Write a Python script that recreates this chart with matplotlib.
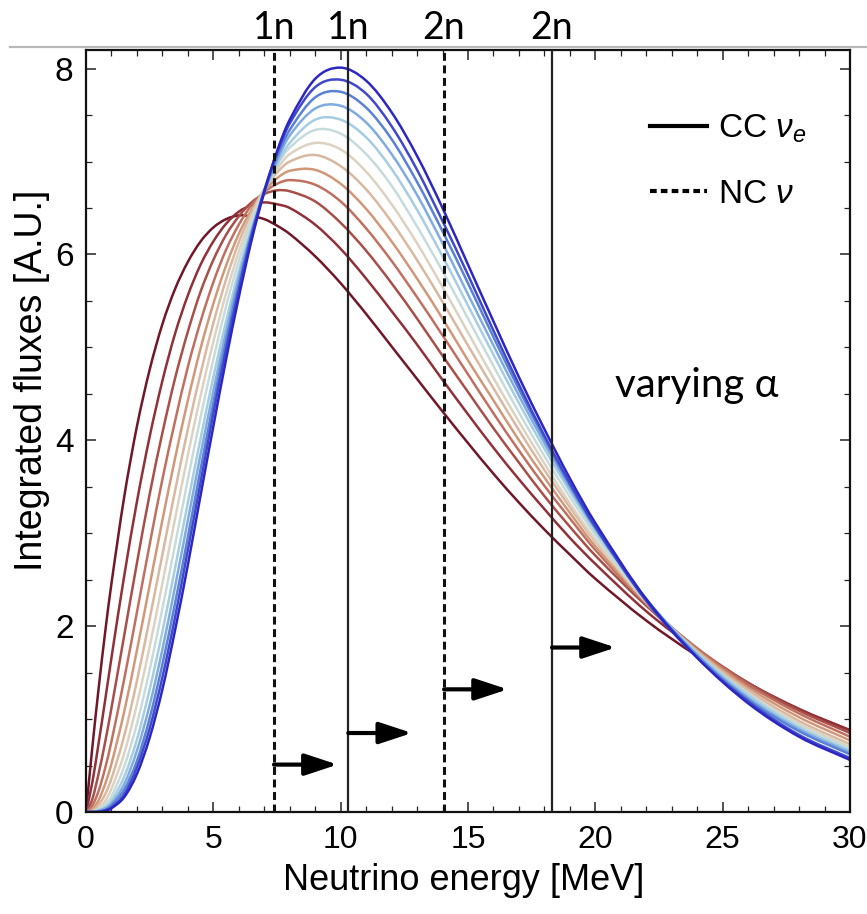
import matplotlib
matplotlib.use('Agg')
import matplotlib.pyplot as plt
from matplotlib.lines import Line2D
from matplotlib.path import Path
from matplotlib.patches import PathPatch
from matplotlib.ticker import MultipleLocator
from matplotlib.colors import LinearSegmentedColormap

# ---------------- data ----------------
energy = [0, 0.25, 0.5, 0.75, 1, 1.5, 2, 2.5, 3, 3.5, 4, 4.5, 5, 5.5, 6, 6.5, 7, 7.5, 8,
          9, 10, 11, 12, 13, 14, 15, 16, 17, 18, 19, 20, 22, 24, 26, 28, 30]

flux_01 = [0, 0.70, 1.34, 1.93, 2.46, 3.39, 4.15, 4.76, 5.25, 5.63, 5.92, 6.14, 6.29, 6.38, 6.42, 6.41, 6.38, 6.31, 6.22, 5.98, 5.69, 5.36, 5.01, 4.66, 4.31, 3.97, 3.64, 3.33, 3.04, 2.77, 2.51, 2.06, 1.68, 1.36, 1.10, 0.88]
flux_02 = [0, 0.32, 0.75, 1.20, 1.66, 2.54, 3.34, 4.04, 4.64, 5.15, 5.56, 5.89, 6.14, 6.33, 6.46, 6.53, 6.56, 6.54, 6.50, 6.32, 6.06, 5.74, 5.39, 5.03, 4.65, 4.28, 3.92, 3.58, 3.26, 2.95, 2.67, 2.16, 1.74, 1.39, 1.11, 0.88]
flux_03 = [0, 0.14, 0.42, 0.75, 1.12, 1.90, 2.68, 3.42, 4.08, 4.67, 5.17, 5.60, 5.94, 6.21, 6.41, 6.56, 6.65, 6.69, 6.68, 6.57, 6.34, 6.04, 5.69, 5.31, 4.91, 4.52, 4.13, 3.76, 3.40, 3.07, 2.76, 2.22, 1.76, 1.39, 1.09, 0.85]
flux_04 = [0, 0.07, 0.23, 0.47, 0.76, 1.43, 2.15, 2.88, 3.58, 4.21, 4.79, 5.28, 5.70, 6.05, 6.32, 6.53, 6.67, 6.76, 6.80, 6.75, 6.57, 6.28, 5.93, 5.54, 5.13, 4.71, 4.29, 3.89, 3.51, 3.16, 2.82, 2.24, 1.76, 1.37, 1.06, 0.81]
flux_05 = [0, 0.03, 0.13, 0.30, 0.52, 1.08, 1.74, 2.44, 3.14, 3.81, 4.43, 4.99, 5.47, 5.88, 6.22, 6.48, 6.68, 6.82, 6.90, 6.91, 6.76, 6.49, 6.14, 5.74, 5.31, 4.86, 4.43, 4.00, 3.60, 3.22, 2.86, 2.25, 1.74, 1.34, 1.02, 0.77]
flux_06 = [0, 0.01, 0.08, 0.19, 0.36, 0.82, 1.41, 2.08, 2.77, 3.46, 4.12, 4.72, 5.26, 5.73, 6.13, 6.45, 6.70, 6.88, 7.00, 7.07, 6.95, 6.70, 6.35, 5.94, 5.49, 5.02, 4.56, 4.11, 3.68, 3.28, 2.91, 2.26, 1.73, 1.31, 0.98, 0.73]
flux_07 = [0, 0.01, 0.04, 0.12, 0.25, 0.63, 1.16, 1.78, 2.46, 3.16, 3.84, 4.48, 5.06, 5.58, 6.03, 6.40, 6.70, 6.92, 7.08, 7.20, 7.13, 6.89, 6.54, 6.12, 5.65, 5.16, 4.67, 4.20, 3.75, 3.32, 2.93, 2.26, 1.71, 1.28, 0.95, 0.70]
flux_08 = [0, 0.00, 0.03, 0.08, 0.17, 0.49, 0.95, 1.53, 2.19, 2.88, 3.58, 4.25, 4.87, 5.44, 5.93, 6.35, 6.69, 6.96, 7.15, 7.34, 7.30, 7.08, 6.74, 6.30, 5.82, 5.31, 4.80, 4.30, 3.83, 3.39, 2.98, 2.27, 1.71, 1.27, 0.93, 0.68]
flux_09 = [0, 0.00, 0.02, 0.05, 0.12, 0.38, 0.78, 1.32, 1.94, 2.63, 3.33, 4.02, 4.68, 5.28, 5.82, 6.28, 6.67, 6.97, 7.20, 7.45, 7.45, 7.26, 6.92, 6.48, 5.98, 5.45, 4.92, 4.40, 3.91, 3.45, 3.02, 2.29, 1.71, 1.26, 0.91, 0.66]
flux_10 = [0, 0.00, 0.01, 0.04, 0.09, 0.30, 0.66, 1.15, 1.75, 2.43, 3.14, 3.85, 4.53, 5.17, 5.75, 6.25, 6.67, 7.01, 7.28, 7.57, 7.60, 7.42, 7.08, 6.64, 6.12, 5.57, 5.02, 4.48, 3.97, 3.49, 3.05, 2.29, 1.69, 1.23, 0.89, 0.64]
flux_11 = [0, 0.00, 0.01, 0.02, 0.07, 0.24, 0.55, 1.01, 1.59, 2.25, 2.96, 3.69, 4.40, 5.07, 5.68, 6.22, 6.67, 7.05, 7.34, 7.69, 7.75, 7.58, 7.24, 6.78, 6.25, 5.69, 5.11, 4.55, 4.02, 3.52, 3.06, 2.29, 1.68, 1.21, 0.87, 0.62]
flux_12 = [0, 0.00, 0.00, 0.02, 0.05, 0.19, 0.48, 0.90, 1.45, 2.10, 2.82, 3.55, 4.29, 4.98, 5.62, 6.20, 6.69, 7.09, 7.41, 7.80, 7.88, 7.73, 7.38, 6.91, 6.36, 5.78, 5.18, 4.60, 4.05, 3.54, 3.07, 2.27, 1.66, 1.19, 0.83, 0.58]
flux_13 = [0, 0.00, 0.00, 0.01, 0.04, 0.16, 0.41, 0.80, 1.32, 1.96, 2.66, 3.41, 4.15, 4.87, 5.54, 6.15, 6.67, 7.11, 7.45, 7.89, 8.01, 7.87, 7.53, 7.06, 6.50, 5.89, 5.28, 4.68, 4.12, 3.59, 3.11, 2.29, 1.66, 1.17, 0.81, 0.56]

fluxes = [flux_01, flux_02, flux_03, flux_04, flux_05, flux_06, flux_07,
          flux_08, flux_09, flux_10, flux_11, flux_12, flux_13]

# thresholds (MeV): NC 1n, CC 1n, NC 2n, CC 2n
threshold_energy = [7.38, 10.3, 14.06, 18.3]
threshold_kind = ['NC', 'CC', 'NC', 'CC']
threshold_label = ['1n', '1n', '2n', '2n']
arrow_height = [0.51, 0.85, 1.32, 1.77]
arrow_length = 2.5

legend_labels = ['CC $\\nu_e$', 'NC $\\nu$']
x_label = 'Neutrino energy [MeV]'
y_label = 'Integrated fluxes [A.U.]'
note = 'varying α'

# ---------------- styling ----------------
plt.rcParams['mathtext.fontset'] = 'custom'
plt.rcParams['mathtext.rm'] = 'Liberation Sans'
plt.rcParams['mathtext.it'] = 'Liberation Sans:italic'
plt.rcParams['font.family'] = ['Liberation Sans', 'DejaVu Sans']

cmap = LinearSegmentedColormap.from_list('temp', [
    '#701828', '#903038', '#a85048', '#c07060', '#d09878', '#d8b8a0',
    '#ddd2c0', '#c6dcdc', '#a6cde2', '#80ace0', '#5a82d6', '#4048cc', '#2c26c2'])


def smooth_path(xs, ys):
    """Smooth (cubic Hermite / Bezier) path through the data points."""
    n = len(xs)
    slopes = []
    for i in range(n):
        if i == 0:
            slopes.append((ys[1] - ys[0]) / (xs[1] - xs[0]))
        elif i == n - 1:
            slopes.append((ys[-1] - ys[-2]) / (xs[-1] - xs[-2]))
        else:
            slopes.append((ys[i + 1] - ys[i - 1]) / (xs[i + 1] - xs[i - 1]))
    verts = [(xs[0], ys[0])]
    codes = [Path.MOVETO]
    for i in range(n - 1):
        h = xs[i + 1] - xs[i]
        verts += [(xs[i] + h / 3, ys[i] + slopes[i] * h / 3),
                  (xs[i + 1] - h / 3, ys[i + 1] - slopes[i + 1] * h / 3),
                  (xs[i + 1], ys[i + 1])]
        codes += [Path.CURVE4] * 3
    return Path(verts, codes)


W, H = 867, 914
fig = plt.figure(figsize=(W / 100, H / 100), dpi=100)
ax_l, ax_r, ax_b, ax_t = 86, 850, 812, 50
ax = fig.add_axes([ax_l / W, 1 - ax_b / H, (ax_r - ax_l) / W, (ax_b - ax_t) / H])

n = len(fluxes)
for i, fl in enumerate(fluxes):
    ax.add_patch(PathPatch(smooth_path(energy, fl), fill=False,
                           edgecolor=cmap(i / (n - 1)), lw=1.8,
                           capstyle='round', joinstyle='round', zorder=2 + i * 0.01))

for e, kind in zip(threshold_energy, threshold_kind):
    if kind == 'NC':
        ax.axvline(e, color='#111111', lw=2.2, ls=(0, (2.6, 1.5)), zorder=5)
    else:
        ax.axvline(e, color='#222222', lw=1.6, zorder=5)

for e, yv in zip(threshold_energy, arrow_height):
    ax.annotate('', xy=(e + arrow_length, yv), xytext=(e, yv),
                arrowprops=dict(arrowstyle='-|>,head_length=1.0,head_width=0.33',
                                lw=3, color='black', mutation_scale=20,
                                shrinkA=0, shrinkB=0), zorder=6)

trans = ax.get_xaxis_transform()
for e, lab in zip(threshold_energy, threshold_label):
    ax.text(e, 1 + 22 / (ax_b - ax_t), lab, transform=trans, ha='center', va='center',
            fontsize=27, family=['Lato', 'DejaVu Sans'], clip_on=False)

ax.text(0.80, 0.56, note, transform=ax.transAxes, ha='center', va='center',
        fontsize=29, family=['Lato', 'DejaVu Sans'])

handles = [Line2D([], [], color='black', lw=3),
           Line2D([], [], color='black', lw=3, ls=(0, (1.6, 1.0)))]
ax.legend(handles, legend_labels, loc='upper left',
          bbox_to_anchor=((650 - ax_l) / (ax_r - ax_l), (ax_b - 113) / (ax_b - ax_t)),
          frameon=False, fontsize=24, handlelength=1.7, handletextpad=0.33,
          labelspacing=1.0, borderpad=0, borderaxespad=0)

ax.set_xlim(0, 30)
ax.set_ylim(0, 8.2)
ax.xaxis.set_major_locator(MultipleLocator(5))
ax.xaxis.set_minor_locator(MultipleLocator(1))
ax.yaxis.set_major_locator(MultipleLocator(2))
ax.yaxis.set_minor_locator(MultipleLocator(0.5))
ax.tick_params(which='both', direction='in', top=True, right=True, color='#222222')
ax.tick_params(which='major', length=7, width=1.1)
ax.tick_params(which='minor', length=4, width=0.9)
ax.tick_params(axis='x', which='major', pad=9, labelsize=23)
ax.tick_params(axis='y', which='major', pad=9, labelsize=24)
for sp in ax.spines.values():
    sp.set_linewidth(1.6)
    sp.set_color('#111111')

fig.text(464 / W, 1 - 880 / H, x_label, ha='center', va='center', fontsize=26)
fig.text(32 / W, 1 - 380 / H, y_label, ha='center', va='center', rotation=90,
         fontsize=27)

fig.add_artist(Line2D([10 / W, 1], [1 - 47 / H, 1 - 47 / H], color='#b8b8b8', lw=1.6))

fig.savefig('out.png', dpi=100)
